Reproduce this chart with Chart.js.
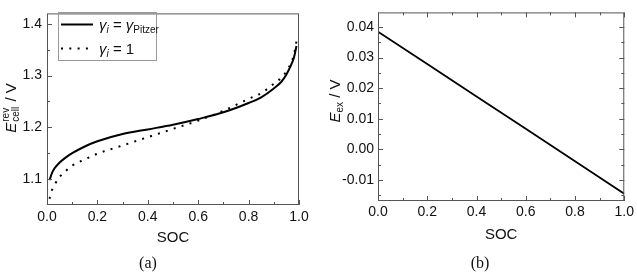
<!DOCTYPE html>
<html>
<head>
<meta charset="utf-8">
<script src="https://cdn.jsdelivr.net/npm/chart.js@4"></script>
<style>
html, body { margin: 0; padding: 0; background: #fff; }
#wrap { position: relative; width: 637px; height: 272px; }
canvas { position: absolute; top: 0; }
</style>
</head>
<body>
<div id="wrap">
  <canvas id="graph_a" width="320" height="272" style="left:0"></canvas>
  <canvas id="graph_b" width="317" height="272" style="left:320px"></canvas>
</div>
<script>
'use strict';

// (a) reversible cell voltage vs SOC
const soc = [0.01, 0.02, 0.03, 0.05, 0.075, 0.1, 0.15, 0.2, 0.3, 0.4, 0.5, 0.6, 0.7, 0.8, 0.85, 0.9, 0.93, 0.95, 0.97, 0.98, 0.99];
const ecellPitzer = [1.098, 1.112, 1.121, 1.132, 1.142, 1.150, 1.163, 1.173, 1.187, 1.196, 1.205, 1.216, 1.229, 1.247, 1.258, 1.275, 1.288, 1.302, 1.322, 1.335, 1.357];
const ecellIdeal = [1.062, 1.079, 1.089, 1.104, 1.116, 1.126, 1.138, 1.149, 1.165, 1.181, 1.197, 1.213, 1.232, 1.255, 1.266, 1.284, 1.296, 1.308, 1.326, 1.340, 1.366];

// (b) excess voltage vs SOC
const socB = [0.0, 0.2, 0.4, 0.6, 0.8, 1.0];
const eex = [0.0385, 0.0279, 0.0173, 0.0067, -0.0039, -0.0145];

// ticks
const socTicks = [0, 0.2, 0.4, 0.6, 0.8, 1.0];
const socMinor = [0.1, 0.3, 0.5, 0.7, 0.9];
const ecellTicks = [1.1, 1.2, 1.3, 1.4];
const ecellMinor = [1.15, 1.25, 1.35];
const eexTicks = [-0.01, 0, 0.01, 0.02, 0.03, 0.04];
const eexMinor = [-0.015, -0.005, 0.005, 0.015, 0.025, 0.035];

const SANS = '"Liberation Sans", Arial, sans-serif';
const SERIF = '"Liberation Serif", "Times New Roman", serif';
const FRAME = '#555';
const TXT = '#111';

// draw text pieces with sub/superscripts, returns width
function rich(ctx, parts, x, y, draw) {
    let x0 = x;
    parts.forEach(p => {
        ctx.font = p.font;
        if (p.sup !== undefined) {
            let w = Math.max(ctx.measureText(p.sup).width, ctx.measureText(p.sub).width);
            if (draw) {
                ctx.fillText(p.sup, x + 1, y - 7);
                ctx.fillText(p.sub, x + 1, y + 3);
            }
            x += w + 2;
        } else {
            if (draw) ctx.fillText(p.t, x, y + (p.dy || 0));
            x += ctx.measureText(p.t).width;
        }
    });
    return x - x0;
}

function tickMarks(ctx, scale, values, len, area, mirror) {
    values.forEach(v => {
        let p = Math.round(scale.getPixelForValue(v)) + 0.5;
        ctx.beginPath();
        if (scale.isHorizontal()) {
            ctx.moveTo(p, area.bottom); ctx.lineTo(p, area.bottom - len);
            if (mirror) { ctx.moveTo(p, area.top); ctx.lineTo(p, area.top + len); }
        } else {
            ctx.moveTo(area.left, p); ctx.lineTo(area.left + len, p);
            if (mirror) { ctx.moveTo(area.right, p); ctx.lineTo(area.right - len, p); }
        }
        ctx.stroke();
    });
}

function makeDecor(cfg) {
    return {
        id: 'decor',
        afterDraw(chart) {
            const ctx = chart.ctx;
            const a = chart.chartArea;
            const sx = chart.scales.x, sy = chart.scales.y;
            ctx.save();
            // frame
            ctx.strokeStyle = FRAME;
            ctx.lineWidth = 1;
            ctx.strokeRect(a.left + 0.5, a.top + 0.5, a.right - a.left - 1, a.bottom - a.top - 1);
            // inward ticks
            tickMarks(ctx, sx, socTicks, 5, a, cfg.mirror);
            tickMarks(ctx, sx, socMinor, 3, a, cfg.mirror);
            tickMarks(ctx, sy, cfg.yMajor, 5, a, cfg.mirror);
            tickMarks(ctx, sy, cfg.yMinor, 3, a, cfg.mirror);

            // y title, rotated
            ctx.fillStyle = TXT;
            ctx.textAlign = 'left';
            ctx.textBaseline = 'alphabetic';
            ctx.translate(cfg.titleX, cfg.titleY);
            ctx.rotate(-Math.PI / 2);
            let w = rich(ctx, cfg.yTitle, 0, 0, false);
            rich(ctx, cfg.yTitle, -w / 2, 0, true);
            ctx.setTransform(1, 0, 0, 1, 0, 0);

            // caption
            ctx.font = '16px ' + SERIF;
            ctx.textAlign = 'center';
            ctx.fillText(cfg.caption, cfg.capX, 268);

            // legend
            if (cfg.legend) {
                ctx.strokeStyle = '#999';
                ctx.strokeRect(58.5, 12.5, 98, 48);
                ctx.strokeStyle = '#000';
                ctx.lineWidth = 2;
                ctx.beginPath(); ctx.moveTo(61, 24.5); ctx.lineTo(93, 24.5); ctx.stroke();
                ctx.setLineDash([2, 6.3]);
                ctx.beginPath(); ctx.moveTo(61, 48.5); ctx.lineTo(93, 48.5); ctx.stroke();
                ctx.setLineDash([]);
                ctx.textAlign = 'left';
                rich(ctx, legendPitzer, 99, 30, true);
                rich(ctx, legendIdeal, 99, 54, true);
            }
            ctx.restore();
        }
    };
}

const legendPitzer = [
    { t: 'γ', font: 'italic 15px ' + SANS },
    { t: 'i', font: 'italic 10px ' + SANS, dy: 3 },
    { t: ' = ', font: '15px ' + SANS },
    { t: 'γ', font: 'italic 15px ' + SANS },
    { t: 'Pitzer', font: '10px ' + SANS, dy: 3 }
];
const legendIdeal = [
    { t: 'γ', font: 'italic 15px ' + SANS },
    { t: 'i', font: 'italic 10px ' + SANS, dy: 3 },
    { t: ' = 1', font: '15px ' + SANS }
];

function axisX(height, pad, titlePad) {
    return {
        type: 'linear', min: 0, max: 1,
        grid: { display: false, drawTicks: false },
        border: { display: false },
        afterBuildTicks: s => { s.ticks = socTicks.map(v => ({ value: v })); },
        afterFit: s => { s.height = height; },
        ticks: { padding: pad, color: TXT, font: { family: SANS, size: 14 }, maxRotation: 0, autoSkip: false,
                 callback: v => v.toFixed(1) },
        title: { display: true, text: 'SOC', color: TXT, font: { family: SANS, size: 15 },
                 padding: { top: 0, bottom: titlePad } }
    };
}

function axisY(min, max, values, digits, width, pad) {
    return {
        type: 'linear', min: min, max: max,
        grid: { display: false, drawTicks: false },
        border: { display: false },
        afterBuildTicks: s => { s.ticks = values.map(v => ({ value: v })); },
        afterFit: s => { s.width = width; },
        ticks: { padding: pad, color: TXT, font: { family: SANS, size: 14 }, autoSkip: false,
                 callback: v => v.toFixed(digits) }
    };
}

window.onload = function () {
    new Chart(document.getElementById('graph_a'), {
        type: 'line',
        data: {
            datasets: [{
                label: 'γi = γPitzer',
                data: soc.map((s, i) => ({ x: s, y: ecellPitzer[i] })),
                borderColor: '#000', borderWidth: 2, pointRadius: 0,
                cubicInterpolationMode: 'monotone'
            }, {
                label: 'γi = 1',
                data: soc.map((s, i) => ({ x: s, y: ecellIdeal[i] })),
                borderColor: '#000', borderWidth: 2, pointRadius: 0,
                borderDash: [2, 6.3],
                cubicInterpolationMode: 'monotone'
            }]
        },
        options: {
            responsive: false,
            animation: false,
            devicePixelRatio: 1,
            layout: { autoPadding: false, padding: { left: 0, top: 3, right: 21, bottom: 0 } },
            plugins: { legend: { display: false }, tooltip: { enabled: false } },
            scales: {
                x: axisX(67, 4, 25),
                y: axisY(1.05, 1.42, ecellTicks, 1, 47, 5)
            }
        },
        plugins: [makeDecor({
            mirror: false, yMajor: ecellTicks, yMinor: ecellMinor,
            titleX: 15.5, titleY: 108, caption: '(a)', capX: 148, legend: true,
            yTitle: [
                { t: 'E', font: 'italic 15px ' + SANS },
                { sup: 'rev', sub: 'cell', font: '10px ' + SANS },
                { t: ' / V', font: '15px ' + SANS }
            ]
        })]
    });

    new Chart(document.getElementById('graph_b'), {
        type: 'line',
        data: {
            datasets: [{
                label: 'Eex',
                data: socB.map((s, i) => ({ x: s, y: eex[i] })),
                borderColor: '#000', borderWidth: 1.8, pointRadius: 0
            }]
        },
        options: {
            responsive: false,
            animation: false,
            devicePixelRatio: 1,
            layout: { autoPadding: false, padding: { left: 0, top: 1, right: 9, bottom: 0 } },
            plugins: { legend: { display: false }, tooltip: { enabled: false } },
            scales: {
                x: axisX(71, 3, 28),
                y: axisY(-0.0169, 0.0448, eexTicks, 2, 58, 4)
            }
        },
        plugins: [makeDecor({
            mirror: true, yMajor: eexTicks, yMinor: eexMinor,
            titleX: 20, titleY: 101, caption: '(b)', capX: 160, legend: false,
            yTitle: [
                { t: 'E', font: 'italic 15px ' + SANS },
                { t: 'ex', font: '10px ' + SANS, dy: 3 },
                { t: ' / V', font: '15px ' + SANS }
            ]
        })]
    });
};
</script>
</body>
</html>
